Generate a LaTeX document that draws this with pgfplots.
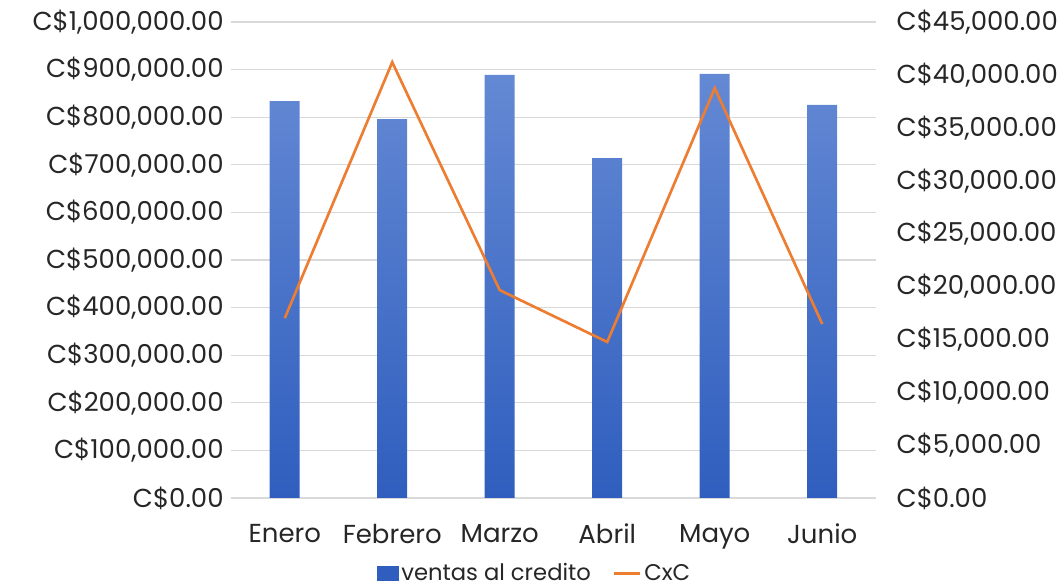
\documentclass[border=0pt]{standalone}
\usepackage{fontspec}
\setmainfont{Poppins}
\usepackage{pgfplots}
\pgfplotsset{compat=1.18}
\definecolor{barTop}{HTML}{6489D4}
\definecolor{barBot}{HTML}{2F5EBE}
\definecolor{cxc}{HTML}{ED7D31}
\definecolor{gridc}{HTML}{D9D9D9}
\begin{document}
\begin{tikzpicture}
\useasboundingbox (-173.25pt,-67.5pt) rectangle (622.5pt,373.5pt);
\begin{axis}[
  scale only axis, width=483.75pt, height=357pt,
  xmin=-0.5, xmax=5.5, ymin=0, ymax=1000000,
  axis line style={draw=none}, tick style={draw=none},
  ymajorgrids, major grid style={gridc, line width=0.8pt},
  xtick={0,...,5},
  xticklabels={Enero,Febrero,Marzo,Abril,Mayo,Junio},
  ytick={0,100000,...,1000000},
  yticklabels={{C\$0.00},{C\$100,000.00},{C\$200,000.00},{C\$300,000.00},{C\$400,000.00},{C\$500,000.00},{C\$600,000.00},{C\$700,000.00},{C\$800,000.00},{C\$900,000.00},{C\$1,000,000.00}},
  ticklabel style={font=\fontsize{19.5}{22}\selectfont, text=black!85},
  xticklabel style={yshift=-16pt},
  yticklabel style={xshift=-2pt},
  scaled y ticks=false,
]
\addplot[ybar, bar width=22.5pt, draw=none, top color=barTop, bottom color=barBot]
  coordinates {(0,834000) (1,796000) (2,889000) (3,714000) (4,891000) (5,826000)};
\end{axis}
\begin{axis}[
  scale only axis, width=483.75pt, height=357pt,
  xmin=-0.5, xmax=5.5, ymin=0, ymax=45000,
  axis y line*=right, axis x line=none,
  axis line style={draw=none}, tick style={draw=none},
  ytick={0,5000,...,45000},
  yticklabels={{C\$0.00},{C\$5,000.00},{C\$10,000.00},{C\$15,000.00},{C\$20,000.00},{C\$25,000.00},{C\$30,000.00},{C\$35,000.00},{C\$40,000.00},{C\$45,000.00}},
  yticklabel style={font=\fontsize{19.5}{22}\selectfont, text=black!85, xshift=12pt},
  scaled y ticks=false,
  legend image code/.code={},
  legend style={at={(0.471,-0.158)}, anchor=center, draw=none, legend columns=2,
    font=\fontsize{17}{19}\selectfont, text=black!85, inner sep=0pt,
    /tikz/every even column/.append style={column sep=14pt}},
]
\addlegendimage{legend image code/.code={\fill[barBot] (0pt,-5.5pt) rectangle (16pt,5.5pt);}}
\addlegendentry{ventas al credito}
\addplot[cxc, line width=2pt, legend image code/.code={\draw[cxc, line width=2pt] (0pt,0pt) -- (20pt,0pt);}] coordinates {(0,17000) (1,41200) (2,19650) (3,14750) (4,38750) (5,16450)};
\addlegendentry{CxC}
\end{axis}
\end{tikzpicture}
\end{document}
